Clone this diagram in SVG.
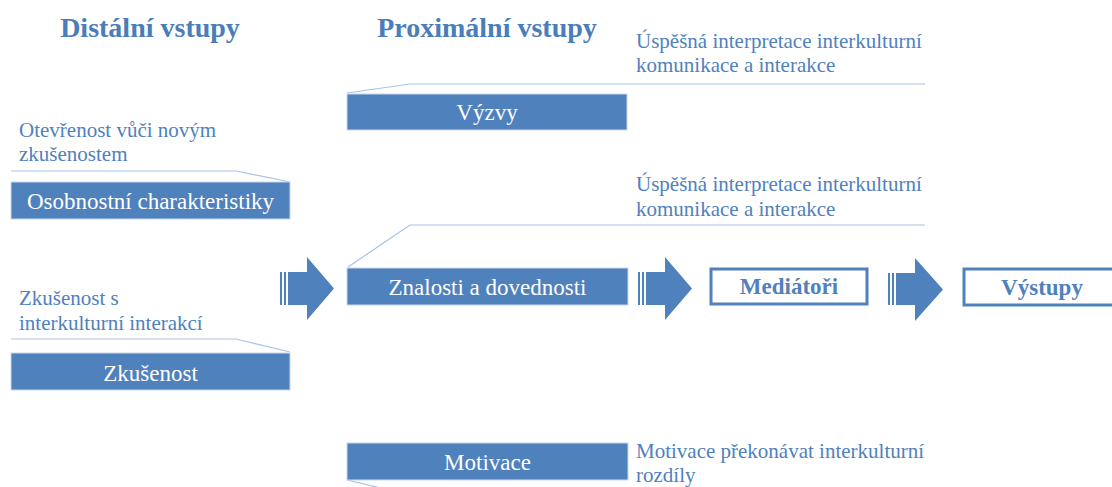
<svg xmlns="http://www.w3.org/2000/svg" width="1112" height="487" viewBox="0 0 1112 487">
<defs>
<style>
.title{font-family:"Liberation Serif",serif;font-weight:bold;font-size:28px;fill:#4A7EBB;text-anchor:middle}
.box{fill:#4F81BD;stroke:#C9D7EA;stroke-width:1}
.btxt{font-family:"Liberation Serif",serif;font-size:23px;fill:#FFFFFF;text-anchor:middle}
.lbl{font-family:"Liberation Serif",serif;font-size:21px;fill:#4F81BD}
.call{fill:none;stroke:#A6C3E4;stroke-width:1.2}
.obox{fill:#FFFFFF;stroke:#4F81BD;stroke-width:3}
.otxt{font-family:"Liberation Serif",serif;font-weight:bold;font-size:23px;fill:#4F81BD;text-anchor:middle}
.arr{fill:#4F81BD}
</style>
</defs>
<rect width="1112" height="487" fill="#FFFFFF"/>
<text class="title" x="150" y="37">Distální vstupy</text>
<text class="title" x="487" y="37">Proximální vstupy</text>

<g id="connectors">
<path class="call" d="M11 171 H236 L290 182"/>
<path class="call" d="M11 339 H236 L290 352"/>
<path class="call" d="M347 93 L410 84 H925"/>
<path class="call" d="M348 267 L410 225 H925"/>
<path class="call" d="M347 480 L385 489"/>
<g id="arrow1" class="arr">
<rect x="280" y="272" width="2" height="33"/>
<rect x="284" y="272" width="2" height="33"/>
<polygon points="288,272 307,272 307,257 334,288.5 307,320 307,305 288,305"/>
</g>
<g id="arrow2" class="arr">
<rect x="638" y="272" width="2" height="33"/>
<rect x="642" y="272" width="2" height="33"/>
<polygon points="646,272 665,272 665,257 692,288.5 665,320 665,305 646,305"/>
</g>
<g id="arrow3" class="arr">
<rect x="888" y="273" width="2" height="32"/>
<rect x="892" y="273" width="2" height="32"/>
<polygon points="896,273 915,273 915,258 943,289.5 915,321 915,305 896,305"/>
</g>
</g>

<g id="osobnostni">
<rect class="box" x="11" y="182" width="279" height="37"/>
<text class="btxt" x="150.5" y="209">Osobnostní charakteristiky</text>
<text class="lbl" x="19" y="137">Otevřenost vůči novým</text>
<text class="lbl" x="19" y="161">zkušenostem</text>
</g>

<g id="zkusenost">
<rect class="box" x="11" y="353" width="279" height="37"/>
<text class="btxt" x="150.5" y="381">Zkušenost</text>
<text class="lbl" x="19" y="305">Zkušenost s</text>
<text class="lbl" x="19" y="330">interkulturní interakcí</text>
</g>

<g id="vyzvy">
<rect class="box" x="347" y="94" width="280" height="36"/>
<text class="btxt" x="487" y="120">Výzvy</text>
<text class="lbl" x="636" y="48">Úspěšná interpretace interkulturní</text>
<text class="lbl" x="636" y="72">komunikace a interakce</text>
</g>

<g id="znalosti">
<rect class="box" x="347" y="268" width="281" height="37"/>
<text class="btxt" x="487.5" y="295">Znalosti a dovednosti</text>
<text class="lbl" x="636" y="191">Úspěšná interpretace interkulturní</text>
<text class="lbl" x="636" y="216">komunikace a interakce</text>
</g>

<g id="motivace">
<rect class="box" x="347" y="443" width="281" height="37"/>
<text class="btxt" x="487.5" y="470">Motivace</text>
<text class="lbl" x="636" y="458">Motivace překonávat interkulturní</text>
<text class="lbl" x="636" y="482">rozdíly</text>
</g>

<g id="mediatori">
<rect class="obox" x="711" y="269" width="156" height="35"/>
<text class="otxt" x="789" y="294">Mediátoři</text>
</g>

<g id="vystupy">
<rect class="obox" x="964" y="269" width="160" height="36"/>
<text class="otxt" x="1042" y="295">Výstupy</text>
</g>
</svg>
